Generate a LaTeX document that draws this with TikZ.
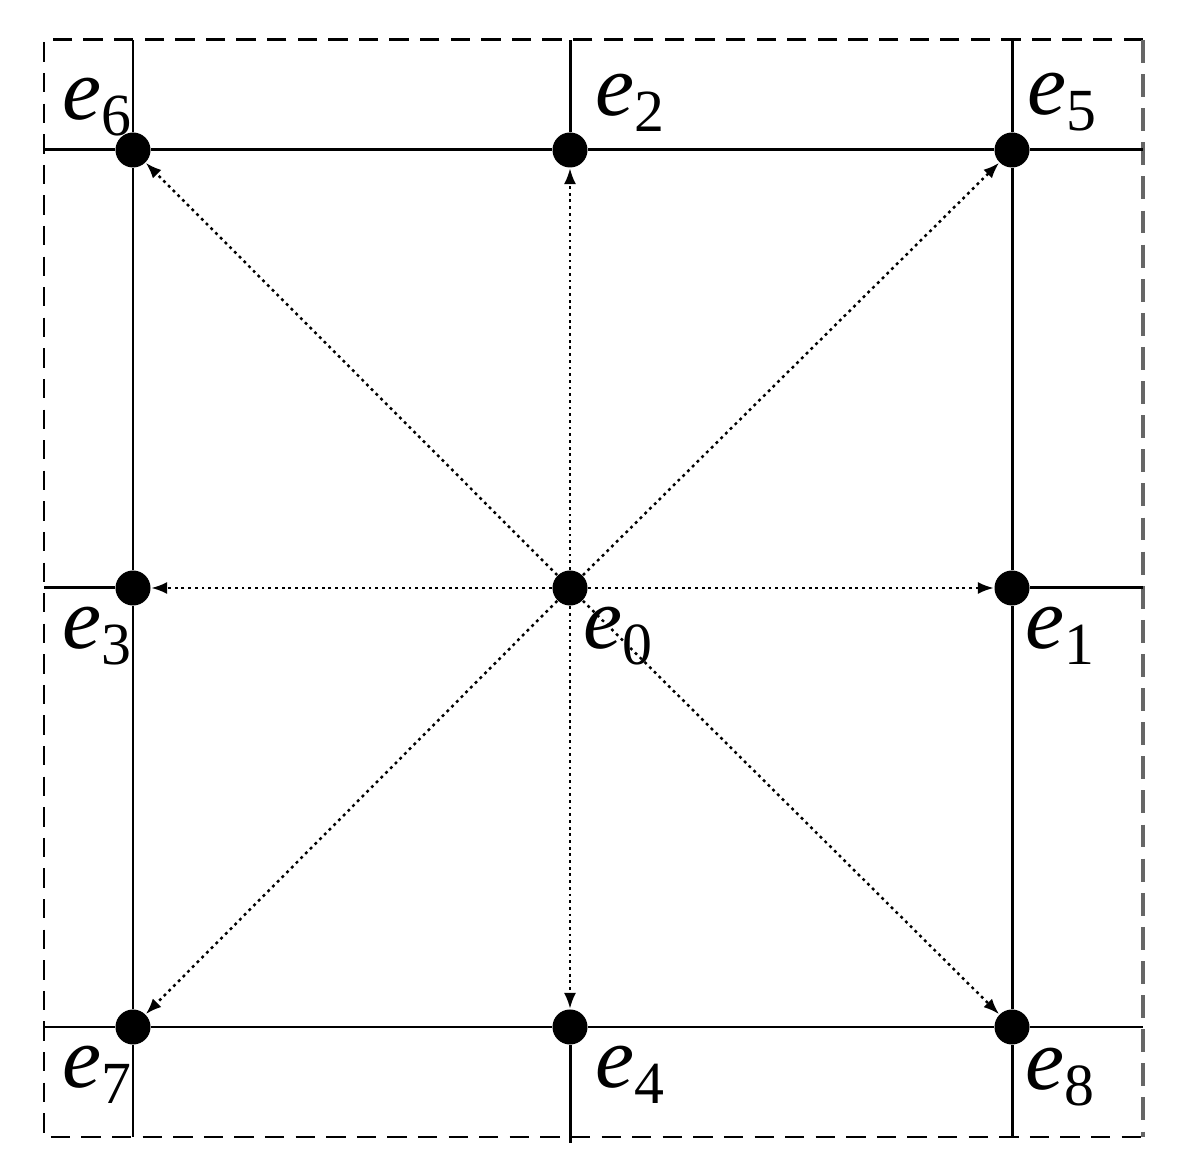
\documentclass[tikz,border=0pt]{standalone}
\usepackage{fontspec}
\setmainfont{Liberation Serif}
\usetikzlibrary{arrows.meta,positioning}
\newcommand{\evec}[1]{\textit{e}\raisebox{-0.4ex}{\fontsize{17}{17}\selectfont #1}}

\begin{document}
\begin{tikzpicture}[x=0.01cm,y=-0.01cm,
    dot/.style={circle,fill=black,inner sep=0pt,minimum size=0.35cm},
    lbl/.style={font=\fontsize{25}{25}\selectfont,inner sep=0pt},
    grid line/.style={line width=0.85pt},
    vec/.style={line width=0.7pt,dash pattern=on 0.8pt off 1.1pt,-{Latex[length=4.5pt,width=3.4pt]}}]
  \useasboundingbox (0,0) rectangle (1179,1174);
  % outer frame
  \draw[line width=0.85pt,dash pattern=on 5.5pt off 3.2pt] (1143,40) -- (44,40) -- (44,1137) -- (1143,1137);
  \draw[line width=1.4pt,gray!80!black,dash pattern=on 6.5pt off 3.2pt] (1143,40) -- (1143,1137);
  % lattice points
  \node[dot] (e0) at (570,588) {};
  \node[dot] (e1) at (1012,588) {};
  \node[dot] (e2) at (570,150) {};
  \node[dot] (e3) at (133,588) {};
  \node[dot] (e4) at (570,1027) {};
  \node[dot] (e5) at (1012,150) {};
  \node[dot] (e6) at (133,150) {};
  \node[dot] (e7) at (133,1027) {};
  \node[dot] (e8) at (1012,1027) {};
  % grid
  \draw[grid line] (133,40) -- (e6) -- (e3) -- (e7) -- (133,1137);
  \draw[grid line] (1012,40) -- (e5) -- (e1) -- (e8) -- (1012,1137);
  \draw[grid line] (570,40) -- (e2);
  \draw[grid line] (e4) -- (570,1143);
  \draw[grid line] (44,150) -- (e6) -- (e2) -- (e5) -- (1143,150);
  \draw[grid line] (44,1027) -- (e7) -- (e4) -- (e8) -- (1143,1027);
  \draw[grid line] (44,588) -- (e3);
  \draw[grid line] (e1) -- (1143,588);
  \foreach \i in {1,...,8}
    \draw[vec] (e0) -- (e\i);
  % labels
  \node[lbl,above left=0.0cm and -0.12cm of e6] (l6) {\evec{6}};
  \node[lbl,above right=0.05cm and 0.12cm of e2] (l2) {\evec{2}};
  \node[lbl,above right=0.05cm and 0.02cm of e5] (l5) {\evec{5}};
  \node[lbl,below left=0.05cm and -0.12cm of e3] (l3) {\evec{3}};
  \node[lbl,below right=0.05cm and 0.0cm of e0] (l0) {\evec{0}};
  \node[lbl,below right=0.05cm and 0.0cm of e1] (l1) {\evec{1}};
  \node[lbl,below left=0.05cm and -0.12cm of e7] (l7) {\evec{7}};
  \node[lbl,below right=0.05cm and 0.12cm of e4] (l4) {\evec{4}};
  \node[lbl,below right=0.07cm and 0.0cm of e8] (l8) {\evec{8}};
\end{tikzpicture}
\end{document}
